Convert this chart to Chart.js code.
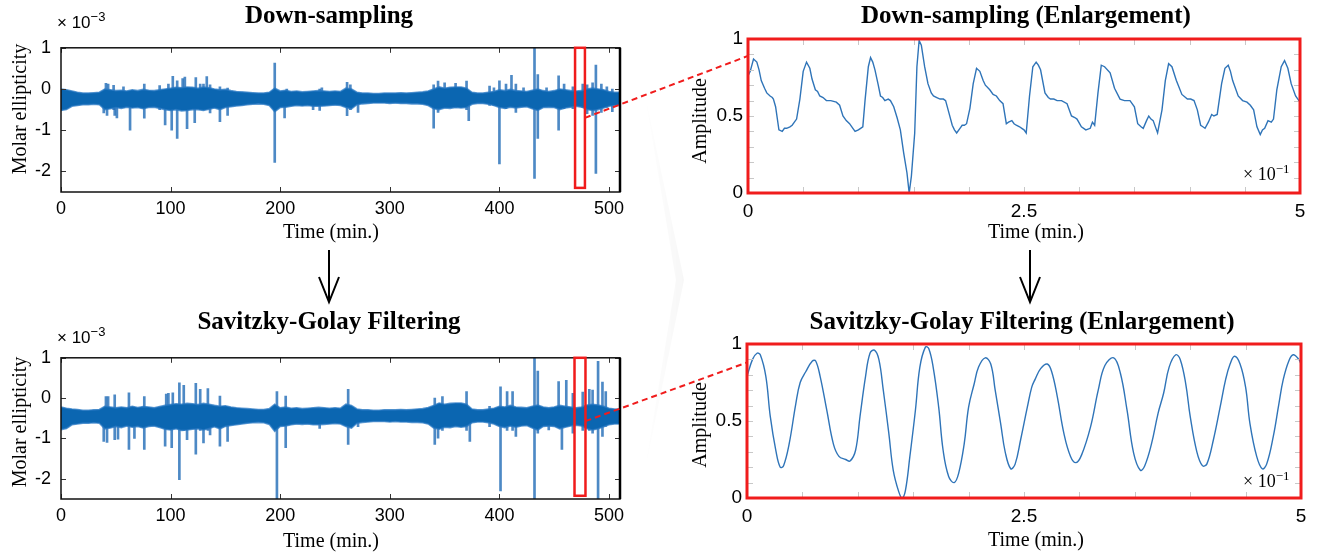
<!DOCTYPE html>
<html>
<head>
<meta charset="utf-8">
<title>Down-sampling and Savitzky-Golay filtering</title>
<script src="https://cdn.jsdelivr.net/npm/chart.js@4.4.1/dist/chart.umd.min.js"></script>
<style>
  html, body { margin: 0; padding: 0; background: #fff; overflow: hidden; }
  #fig { position: relative; width: 1320px; height: 557px; }
  #fig canvas { position: absolute; }
  .txt { position: absolute; white-space: nowrap; transform: translate(-50%, -50%); line-height: 1; color: #000; z-index: 3; }
  .title { font: bold 25px 'Liberation Serif', 'Times New Roman', serif; }
  .axis { font: 20px 'Liberation Serif', 'Times New Roman', serif; }
  .ylab { transform: translate(-50%, -50%) rotate(-90deg); }
  .mult { font: 17px 'Liberation Sans', Arial, sans-serif; transform: none; }
  .mult span { font-size: 13px; position: relative; top: -7px; }
  .mult.serif { font: 18px 'Liberation Serif', 'Times New Roman', serif; }
</style>
</head>
<body>
<div id="fig">
  <canvas id="dsChart" width="640" height="193" style="left:0px; top:27px"></canvas>
  <canvas id="sgChart" width="640" height="193" style="left:0px; top:337px"></canvas>
  <canvas id="dsZoomChart" width="625" height="206" style="left:690px; top:22px"></canvas>
  <canvas id="sgZoomChart" width="625" height="206" style="left:690px; top:327px"></canvas>
  <canvas id="overlay" width="1320" height="557" style="left:0; top:0; z-index:2; pointer-events:none"></canvas>

  <div class="txt title" style="left:329px; top:15px">Down-sampling</div>
  <div class="txt title" style="left:1026px; top:15px">Down-sampling (Enlargement)</div>
  <div class="txt title" style="left:329px; top:321px">Savitzky-Golay Filtering</div>
  <div class="txt title" style="left:1022px; top:321px">Savitzky-Golay Filtering (Enlargement)</div>

  <div class="txt axis ylab" style="left:19px; top:109px">Molar ellipticity</div>
  <div class="txt axis ylab" style="left:19px; top:422px">Molar ellipticity</div>
  <div class="txt axis ylab" style="left:699px; top:121px">Amplitude</div>
  <div class="txt axis ylab" style="left:699px; top:425px">Amplitude</div>

  <div class="txt axis" style="left:331px; top:231px">Time (min.)</div>
  <div class="txt axis" style="left:331px; top:540px">Time (min.)</div>
  <div class="txt axis" style="left:1036px; top:231px">Time (min.)</div>
  <div class="txt axis" style="left:1036px; top:539px">Time (min.)</div>

  <div class="txt mult" style="left:57px; top:13px">× 10<span>−3</span></div>
  <div class="txt mult" style="left:57px; top:328px">× 10<span>−3</span></div>
  <div class="txt mult serif" style="left:1243px; top:164px">× 10<span>−1</span></div>
  <div class="txt mult serif" style="left:1243px; top:471px">× 10<span>−1</span></div>
</div>

<script>
// ---- data ----

// envelope of the dense signal, one sample every 5 min from 0 to 510 (x 10^-3)
const bandStep = 5;
const dsUpper = [
  0.0, -0.02, -0.05, -0.08, -0.1, -0.1, -0.09, -0.08, 0.0, -0.02,
  -0.04, -0.03, -0.05, -0.02, -0.04, -0.01, -0.03, -0.04, -0.02, 0.0,
  0.02, 0.04, 0.03, 0.05, 0.04, 0.02, 0.05, 0.03, 0.0, -0.02,
  -0.01, -0.04, -0.06, -0.07, -0.08, -0.09, -0.1, -0.1, -0.08, 0.02,
  -0.05, -0.03, -0.06, -0.05, -0.07, -0.06, -0.05, -0.04, -0.05, -0.06,
  -0.05, -0.06, 0.02, 0.0, -0.08, -0.1, -0.1, -0.11, -0.11, -0.1,
  -0.1, -0.1, -0.09, -0.1, -0.09, -0.08, -0.07, -0.05, 0.0, 0.05,
  0.02, 0.04, 0.05, 0.05, 0.02, -0.08, -0.1, -0.1, -0.08, -0.06,
  -0.02, -0.04, -0.01, -0.04, -0.05, -0.06, -0.03, 0.0, -0.04, -0.06,
  -0.04, 0.0, -0.02, -0.04, -0.05, -0.04, 0.0, 0.02, 0.0, -0.02,
  -0.06, -0.08, -0.08
];
const dsLower = [
  -0.52, -0.5, -0.42, -0.4, -0.38, -0.38, -0.37, -0.38, -0.5, -0.48,
  -0.45, -0.47, -0.44, -0.46, -0.45, -0.48, -0.45, -0.44, -0.47, -0.5,
  -0.52, -0.5, -0.53, -0.52, -0.5, -0.5, -0.52, -0.49, -0.46, -0.5,
  -0.45, -0.43, -0.41, -0.4, -0.38, -0.37, -0.36, -0.37, -0.4, -0.55,
  -0.45, -0.44, -0.42, -0.4, -0.41, -0.4, -0.42, -0.42, -0.41, -0.4,
  -0.39, -0.4, -0.45, -0.48, -0.38, -0.36, -0.35, -0.34, -0.34, -0.34,
  -0.35, -0.34, -0.35, -0.35, -0.36, -0.36, -0.37, -0.4, -0.48, -0.5,
  -0.46, -0.47, -0.45, -0.46, -0.45, -0.37, -0.35, -0.35, -0.37, -0.4,
  -0.45, -0.47, -0.44, -0.46, -0.44, -0.43, -0.48, -0.52, -0.45, -0.44,
  -0.45, -0.5, -0.46, -0.44, -0.42, -0.44, -0.5, -0.52, -0.5, -0.46,
  -0.42, -0.4, -0.4
];
const sgUpper = [
  -0.22, -0.25, -0.27, -0.28, -0.3, -0.3, -0.29, -0.28, -0.2, -0.22,
  -0.24, -0.22, -0.24, -0.2, -0.23, -0.21, -0.22, -0.24, -0.21, -0.18,
  -0.16, -0.14, -0.15, -0.13, -0.14, -0.16, -0.13, -0.15, -0.18, -0.2,
  -0.19, -0.22, -0.24, -0.25, -0.26, -0.27, -0.28, -0.28, -0.26, -0.15,
  -0.24, -0.22, -0.25, -0.24, -0.26, -0.25, -0.24, -0.23, -0.24, -0.25,
  -0.24, -0.25, -0.15, -0.18, -0.27, -0.29, -0.29, -0.3, -0.3, -0.29,
  -0.29, -0.29, -0.28, -0.29, -0.28, -0.27, -0.26, -0.23, -0.18, -0.12,
  -0.15, -0.13, -0.12, -0.12, -0.15, -0.27, -0.29, -0.29, -0.27, -0.25,
  -0.2, -0.22, -0.18, -0.22, -0.23, -0.24, -0.2, -0.17, -0.22, -0.24,
  -0.22, -0.18, -0.2, -0.22, -0.24, -0.22, -0.17, -0.15, -0.17, -0.2,
  -0.25, -0.27, -0.27
];
const sgLower = [
  -0.78, -0.75, -0.66, -0.64, -0.62, -0.62, -0.61, -0.62, -0.76, -0.74,
  -0.7, -0.73, -0.69, -0.72, -0.7, -0.74, -0.7, -0.69, -0.73, -0.77,
  -0.79, -0.76, -0.8, -0.79, -0.77, -0.76, -0.79, -0.75, -0.71, -0.76,
  -0.7, -0.68, -0.66, -0.64, -0.62, -0.61, -0.6, -0.61, -0.65, -0.82,
  -0.7, -0.69, -0.66, -0.64, -0.65, -0.64, -0.66, -0.66, -0.65, -0.64,
  -0.63, -0.64, -0.7, -0.74, -0.62, -0.6, -0.59, -0.58, -0.58, -0.58,
  -0.59, -0.58, -0.59, -0.59, -0.6, -0.6, -0.61, -0.64, -0.74, -0.77,
  -0.72, -0.73, -0.7, -0.72, -0.7, -0.61, -0.59, -0.59, -0.61, -0.64,
  -0.7, -0.73, -0.69, -0.72, -0.69, -0.68, -0.74, -0.79, -0.7, -0.69,
  -0.7, -0.76, -0.72, -0.69, -0.67, -0.69, -0.76, -0.79, -0.76, -0.71,
  -0.66, -0.64, -0.64
];

// artefact spikes: time (min), lowest and highest value (x 10^-3)
const dsSpikeTime = [39, 41, 42, 43, 48, 49, 51, 57, 63, 76, 90, 95, 98, 101, 102, 106, 111, 113, 115, 122, 123, 127, 130, 133, 136, 145, 152,
  195, 204, 206, 230, 236, 238, 261, 264, 271, 340, 344, 350, 360, 370, 372, 391, 395, 400, 406, 411, 415, 422,
  432, 435, 443, 454, 459, 467, 476, 480, 485, 488, 493, 498, 503];
const dsSpikeLow = [-0.58, -0.4, -0.64, -0.45, -0.5, -0.64, -0.7, -0.45, -1.0, -0.71, -0.5, -0.87, -0.5, -1.0, -0.4, -1.2, -0.5, -0.4, -0.96, -0.82, -0.4, -0.5, -0.5, -0.4, -0.58, -0.79, -0.64,
  -1.78, -0.7, -0.4, -0.5, -0.52, -0.4, -0.65, -0.5, -0.57, -0.95, -0.57, -0.45, -0.45, -0.5, -0.77, -0.4, -0.4, -1.82, -0.48, -0.4, -0.57, -0.4,
  -2.17, -1.2, -0.4, -1.0, -0.48, -0.48, -0.45, -0.6, -0.64, -2.05, -0.57, -0.45, -0.55];
const dsSpikeHigh = [-0.1, 0.14, -0.05, 0.12, 0.09, -0.1, -0.1, 0.05, -0.1, 0.12, 0.08, -0.1, 0.12, -0.1, 0.31, 0.2, 0.25, 0.29, -0.1, -0.1, 0.28, 0.12, 0.12, 0.3, 0.1, 0.05, 0.02,
  0.63, -0.1, 0.0, -0.1, 0.0, 0.03, 0.16, 0.1, -0.1, 0.1, 0.19, 0.15, 0.14, 0.19, -0.1, 0.07, 0.03, 0.2, 0.12, 0.33, 0.12, 0.03,
  1.0, 0.35, 0.03, 0.32, 0.12, 0.05, 0.12, 0.1, 0.15, 0.58, 0.12, 0.05, 0.0];

const sgSpikeTime = [39, 41, 42, 43, 49, 52, 62, 67, 76, 95, 96, 98, 101, 102, 108, 112, 115, 123, 127, 130, 134, 136, 145, 152,
  197, 205, 236, 262, 271, 341, 344, 348, 370, 373, 391, 401, 407, 412, 415,
  432, 435, 445, 454, 457, 461, 467, 476, 482, 485, 490, 494, 497];
const sgSpikeLow = [-1.07, -0.6, -1.1, -0.7, -1.03, -1.02, -1.27, -1.0, -1.27, -1.19, -0.7, -0.7, -1.23, -0.7, -2.02, -0.8, -1.03, -1.39, -0.8, -1.11, -0.8, -0.91, -1.19, -1.07,
  -2.5, -1.23, -0.75, -1.15, -0.71, -1.15, -0.99, -0.8, -0.8, -1.07, -0.71, -2.3, -0.8, -0.8, -0.95,
  -2.5, -0.87, -0.79, -0.6, -1.27, -0.7, -0.87, -0.8, -0.8, -0.87, -2.5, -0.95, -0.7];
const sgSpikeHigh = [-0.3, 0.04, -0.3, 0.04, 0.08, -0.3, 0.13, -0.3, 0.04, -0.3, 0.1, 0.12, -0.3, 0.13, 0.38, 0.32, -0.3, 0.37, 0.22, -0.3, 0.24, -0.3, 0.05, -0.3,
  0.16, 0.05, -0.3, 0.22, -0.3, 0.0, -0.3, 0.04, 0.16, -0.3, -0.2, 0.28, 0.16, 0.16, -0.3,
  1.0, 0.67, -0.3, 0.41, -0.3, 0.44, 0.12, 0.15, 0.22, 0.2, 0.91, 0.4, 0.16];

// enlarged window, time in units of 10^-1 min
const dsZoomX = [0.0, 0.02, 0.05, 0.08, 0.1, 0.12, 0.15, 0.17, 0.2, 0.22, 0.23, 0.25, 0.28, 0.31, 0.33, 0.35, 0.38, 0.4, 0.42, 0.44,
  0.47, 0.5, 0.53, 0.56, 0.58, 0.61, 0.63, 0.65, 0.68, 0.71, 0.75, 0.8, 0.83, 0.86, 0.89, 0.92, 0.95, 0.97, 1.0, 1.02,
  1.04, 1.06, 1.09, 1.11, 1.13, 1.15, 1.18, 1.2, 1.22, 1.24, 1.27, 1.29, 1.32, 1.35, 1.38, 1.41, 1.44, 1.46, 1.48, 1.51,
  1.53, 1.55, 1.57, 1.6, 1.63, 1.66, 1.68, 1.71, 1.74, 1.77, 1.79, 1.82, 1.85, 1.87, 1.89, 1.92, 1.94, 1.96, 1.98, 2.01,
  2.04, 2.07, 2.1, 2.13, 2.15, 2.19, 2.22, 2.25, 2.28, 2.31, 2.34, 2.36, 2.39, 2.41, 2.43, 2.46, 2.48, 2.5, 2.52, 2.55,
  2.58, 2.61, 2.63, 2.65, 2.69, 2.72, 2.74, 2.77, 2.8, 2.84, 2.89, 2.93, 2.96, 2.98, 3.02, 3.06, 3.1, 3.12, 3.14, 3.17,
  3.2, 3.23, 3.28, 3.32, 3.37, 3.41, 3.46, 3.5, 3.53, 3.56, 3.58, 3.61, 3.63, 3.65, 3.67, 3.71, 3.75, 3.78, 3.81, 3.84,
  3.88, 3.93, 3.98, 4.01, 4.04, 4.07, 4.1, 4.12, 4.14, 4.17, 4.2, 4.22, 4.25, 4.29, 4.32, 4.35, 4.37, 4.39, 4.44, 4.48,
  4.52, 4.55, 4.58, 4.61, 4.64, 4.66, 4.68, 4.71, 4.74, 4.76, 4.79, 4.83, 4.86, 4.89, 4.92, 4.96, 5.0];
const dsZoomY = [0.76, 0.79, 0.87, 0.85, 0.8, 0.73, 0.68, 0.65, 0.63, 0.62, 0.61, 0.56, 0.41, 0.4, 0.42, 0.42, 0.43, 0.44, 0.46, 0.48,
  0.61, 0.79, 0.85, 0.81, 0.74, 0.67, 0.66, 0.63, 0.62, 0.6, 0.6, 0.59, 0.57, 0.5, 0.47, 0.45, 0.42, 0.4, 0.41, 0.42,
  0.43, 0.6, 0.82, 0.88, 0.85, 0.8, 0.7, 0.63, 0.62, 0.6, 0.61, 0.6, 0.56, 0.49, 0.41, 0.26, 0.13, 0.0, 0.11, 0.39,
  0.82, 0.99, 0.96, 0.82, 0.71, 0.65, 0.63, 0.62, 0.61, 0.61, 0.6, 0.52, 0.44, 0.41, 0.39, 0.42, 0.44, 0.44, 0.45, 0.55,
  0.71, 0.81, 0.79, 0.73, 0.7, 0.67, 0.64, 0.63, 0.6, 0.58, 0.45, 0.46, 0.47, 0.45, 0.44, 0.43, 0.42, 0.41, 0.39, 0.63,
  0.82, 0.85, 0.83, 0.8, 0.65, 0.62, 0.61, 0.61, 0.6, 0.6, 0.58, 0.5, 0.49, 0.48, 0.43, 0.41, 0.42, 0.46, 0.44, 0.65,
  0.83, 0.82, 0.78, 0.68, 0.61, 0.6, 0.6, 0.56, 0.45, 0.43, 0.42, 0.47, 0.5, 0.48, 0.47, 0.39, 0.54, 0.73, 0.84, 0.82,
  0.73, 0.64, 0.61, 0.61, 0.6, 0.54, 0.44, 0.43, 0.42, 0.46, 0.51, 0.5, 0.51, 0.71, 0.81, 0.83, 0.79, 0.73, 0.63, 0.6,
  0.59, 0.57, 0.54, 0.43, 0.38, 0.41, 0.42, 0.47, 0.46, 0.48, 0.67, 0.82, 0.86, 0.81, 0.71, 0.63, 0.59];

const sgZoomX = [0.0, 0.05, 0.09, 0.12, 0.17, 0.21, 0.26, 0.3, 0.33, 0.38, 0.44, 0.48, 0.53, 0.59, 0.62, 0.66, 0.72, 0.78, 0.83, 0.89,
  0.93, 0.98, 1.02, 1.07, 1.11, 1.15, 1.19, 1.23, 1.28, 1.32, 1.37, 1.4, 1.43, 1.47, 1.52, 1.56, 1.61, 1.64, 1.68, 1.73,
  1.77, 1.82, 1.87, 1.91, 1.96, 2.0, 2.05, 2.09, 2.15, 2.2, 2.24, 2.29, 2.33, 2.38, 2.42, 2.47, 2.53, 2.57, 2.6, 2.65,
  2.71, 2.75, 2.8, 2.86, 2.92, 2.97, 3.02, 3.1, 3.17, 3.23, 3.31, 3.37, 3.43, 3.49, 3.55, 3.59, 3.65, 3.71, 3.76, 3.81,
  3.87, 3.91, 3.96, 4.0, 4.06, 4.11, 4.15, 4.21, 4.27, 4.32, 4.36, 4.4, 4.45, 4.5, 4.54, 4.6, 4.65, 4.69, 4.75, 4.8,
  4.84, 4.89, 4.93, 4.98, 5.0];
const sgZoomY = [0.79, 0.9, 0.94, 0.93, 0.79, 0.53, 0.31, 0.2, 0.21, 0.35, 0.61, 0.75, 0.82, 0.89, 0.89, 0.79, 0.57, 0.35, 0.27, 0.25,
  0.24, 0.31, 0.53, 0.79, 0.94, 0.96, 0.9, 0.7, 0.42, 0.18, 0.04, 0.0, 0.05, 0.27, 0.57, 0.85, 0.98, 0.97, 0.85, 0.59,
  0.31, 0.14, 0.1, 0.16, 0.35, 0.59, 0.74, 0.85, 0.91, 0.87, 0.7, 0.48, 0.3, 0.19, 0.22, 0.38, 0.59, 0.72, 0.77, 0.84,
  0.87, 0.82, 0.66, 0.42, 0.27, 0.23, 0.28, 0.46, 0.7, 0.86, 0.91, 0.81, 0.57, 0.29, 0.18, 0.21, 0.35, 0.55, 0.68, 0.85,
  0.93, 0.9, 0.74, 0.53, 0.3, 0.21, 0.22, 0.38, 0.59, 0.77, 0.87, 0.92, 0.87, 0.72, 0.48, 0.27, 0.19, 0.22, 0.4, 0.61,
  0.77, 0.89, 0.93, 0.9, 0.87];

// axes
const xTicksLeft = [0, 100, 200, 300, 400, 500];
const yTicksLeft = [1, 0, -1, -2];
const xTicksRight = [0, 2.5, 5];
const yTicksRight = [0, 0.5, 1];
const xMinorRight = [0.5, 1, 1.5, 2, 2.5, 3, 3.5, 4, 4.5];
const yMinorRight = [0.1, 0.2, 0.3, 0.4, 0.5, 0.6, 0.7, 0.8, 0.9];

// the window that is enlarged on the right (minutes)
const dsWindow = [469, 478];
const sgWindow = [468.5, 478.5];

// ---- styling ----
const bandBlue = '#0b66b1';
const bandEdge = 'rgba(40, 120, 195, 0.75)';
const spikeBlue = 'rgba(32, 108, 182, 0.8)';
const lineBlue = '#2f74b8';
const frameRed = '#f01c1c';
const sans = "'Liberation Sans', Arial, sans-serif";

// frame, inward ticks and the red window box of the long recordings
const leftFrame = {
  id: 'leftFrame',
  afterDatasetsDraw(chart, args, opts) {
    const { ctx, chartArea: a, scales: { x, y } } = chart;
    ctx.save();
    ctx.strokeStyle = '#333';
    ctx.lineWidth = 1;
    ctx.beginPath();
    xTicksLeft.forEach(v => {
      const px = Math.round(x.getPixelForValue(v)) + 0.5;
      ctx.moveTo(px, a.top); ctx.lineTo(px, a.top + 5);
      ctx.moveTo(px, a.bottom); ctx.lineTo(px, a.bottom - 5);
    });
    yTicksLeft.forEach(v => {
      const py = Math.round(y.getPixelForValue(v)) + 0.5;
      ctx.moveTo(a.left, py); ctx.lineTo(a.left + 5, py);
      ctx.moveTo(a.right, py); ctx.lineTo(a.right - 5, py);
    });
    ctx.stroke();

    ctx.strokeStyle = '#111';
    ctx.lineWidth = 1.5;
    ctx.strokeRect(a.left, a.top, a.right - a.left, a.bottom - a.top);
    ctx.strokeStyle = '#000';
    ctx.lineWidth = 2.5;
    ctx.beginPath();
    ctx.moveTo(a.right, a.top); ctx.lineTo(a.right, a.bottom);
    ctx.stroke();

    // enlarged window
    const bx0 = x.getPixelForValue(opts.window[0]);
    const bx1 = x.getPixelForValue(opts.window[1]);
    const by0 = y.getPixelForValue(opts.boxTop);
    const by1 = y.getPixelForValue(opts.boxBottom);
    ctx.strokeStyle = frameRed;
    ctx.lineWidth = 2.5;
    ctx.strokeRect(bx0, by0, bx1 - bx0, by1 - by0);
    ctx.restore();
  }
};

// red frame and grey minor ticks of the enlargements
const rightFrame = {
  id: 'rightFrame',
  afterDatasetsDraw(chart) {
    const { ctx, chartArea: a, scales: { x, y } } = chart;
    ctx.save();
    ctx.strokeStyle = '#c8c8c8';
    ctx.lineWidth = 1;
    ctx.beginPath();
    xMinorRight.forEach(v => {
      const px = Math.round(x.getPixelForValue(v)) + 0.5;
      ctx.moveTo(px, a.top); ctx.lineTo(px, a.top + 6);
      ctx.moveTo(px, a.bottom); ctx.lineTo(px, a.bottom - 6);
    });
    yMinorRight.forEach(v => {
      const py = Math.round(y.getPixelForValue(v)) + 0.5;
      ctx.moveTo(a.left, py); ctx.lineTo(a.left + 6, py);
      ctx.moveTo(a.right, py); ctx.lineTo(a.right - 6, py);
    });
    ctx.stroke();
    ctx.strokeStyle = frameRed;
    ctx.lineWidth = 3;
    ctx.strokeRect(a.left, a.top, a.right - a.left, a.bottom - a.top);
    ctx.restore();
  }
};

// build one long-recording chart
function longChart(id, upper, lower, spikeTime, spikeLow, spikeHigh, frameOpts, xHeight) {
  const band = arr => arr.map((v, i) => ({ x: i * bandStep, y: v }));
  return new Chart(document.getElementById(id), {
    type: 'line',
    data: {
      datasets: [
        { data: band(upper), borderColor: bandEdge, borderWidth: 1.6, pointRadius: 0, tension: 0, fill: false },
        { data: band(lower), borderColor: bandEdge, borderWidth: 1.6, pointRadius: 0, tension: 0, fill: '-1', backgroundColor: bandBlue },
        {
          type: 'bar',
          data: spikeTime.map((t, i) => ({ x: t, y: [spikeLow[i], spikeHigh[i]] })),
          backgroundColor: spikeBlue,
          barThickness: 2,
          borderWidth: 0
        }
      ]
    },
    options: {
      responsive: false,
      animation: false,
      devicePixelRatio: 1,
      layout: { padding: { top: 15, right: 20, left: 0, bottom: 0 } },
      plugins: { legend: { display: false }, tooltip: { enabled: false }, leftFrame: frameOpts },
      scales: {
        x: {
          type: 'linear', min: 0, max: 510, offset: false,
          grid: { display: false, drawTicks: false }, border: { display: false },
          ticks: { color: '#000', font: { family: sans, size: 18 }, padding: 6, maxRotation: 0, callback: v => String(v) },
          afterBuildTicks: s => { s.ticks = xTicksLeft.map(v => ({ value: v })); },
          afterFit: s => { s.height = xHeight; }
        },
        y: {
          min: -2.5, max: 1,
          grid: { display: false, drawTicks: false }, border: { display: false },
          ticks: { color: '#000', font: { family: sans, size: 18 }, padding: 10, callback: v => String(v) },
          afterBuildTicks: s => { s.ticks = yTicksLeft.map(v => ({ value: v })); },
          afterFit: s => { s.width = 61; }
        }
      }
    },
    plugins: [leftFrame]
  });
}

// build one enlargement chart
function zoomChart(id, xs, ys, tension, yWidth, rightPad) {
  return new Chart(document.getElementById(id), {
    type: 'line',
    data: {
      datasets: [{
        data: xs.map((x, i) => ({ x: x, y: ys[i] })),
        borderColor: lineBlue, borderWidth: 1.4, pointRadius: 0, tension: tension, fill: false
      }]
    },
    options: {
      responsive: false,
      animation: false,
      devicePixelRatio: 1,
      layout: { padding: { top: 17, right: rightPad, left: 0, bottom: 0 } },
      plugins: { legend: { display: false }, tooltip: { enabled: false } },
      scales: {
        x: {
          type: 'linear', min: 0, max: 5, offset: false,
          grid: { display: false, drawTicks: false }, border: { display: false },
          ticks: { color: '#000', font: { family: sans, size: 19 }, padding: 7, maxRotation: 0, callback: v => String(v) },
          afterBuildTicks: s => { s.ticks = xTicksRight.map(v => ({ value: v })); },
          afterFit: s => { s.height = 35; }
        },
        y: {
          min: 0, max: 1,
          grid: { display: false, drawTicks: false }, border: { display: false },
          ticks: { color: '#000', font: { family: sans, size: 19 }, padding: 5, callback: v => String(v) },
          afterBuildTicks: s => { s.ticks = yTicksRight.map(v => ({ value: v })); },
          afterFit: s => { s.width = yWidth; }
        }
      }
    },
    plugins: [rightFrame]
  });
}

const dsChart = longChart('dsChart', dsUpper, dsLower, dsSpikeTime, dsSpikeLow, dsSpikeHigh,
  { window: dsWindow, boxTop: 1.0, boxBottom: -2.4 }, 28);
const sgChart = longChart('sgChart', sgUpper, sgLower, sgSpikeTime, sgSpikeLow, sgSpikeHigh,
  { window: sgWindow, boxTop: 1.0, boxBottom: -2.42 }, 31);
const dsZoomChart = zoomChart('dsZoomChart', dsZoomX, dsZoomY, 0, 58, 15);
const sgZoomChart = zoomChart('sgZoomChart', sgZoomX, sgZoomY, 0.4, 57, 14);

// ---- overlay: connectors, arrows, faint chevron ----
function pagePoint(chart, xv, yv) {
  const c = chart.canvas;
  return [c.offsetLeft + chart.scales.x.getPixelForValue(xv), c.offsetTop + chart.scales.y.getPixelForValue(yv)];
}

const ov = document.getElementById('overlay').getContext('2d');

// faint background chevron between the columns
ov.save();
const grad = ov.createLinearGradient(640, 0, 690, 0);
grad.addColorStop(0, 'rgba(0,0,0,0)');
grad.addColorStop(1, 'rgba(0,0,0,0.035)');
ov.fillStyle = grad;
ov.beginPath();
ov.moveTo(645, 95); ov.lineTo(684, 280); ov.lineTo(645, 470); ov.lineTo(676, 280); ov.closePath();
ov.fill();
ov.restore();

// dashed connectors from the red windows to the enlargements
ov.save();
ov.strokeStyle = frameRed;
ov.lineWidth = 2;
ov.setLineDash([6, 4]);
[[dsChart, dsWindow, -0.7, dsZoomChart, 0.89], [sgChart, sgWindow, -0.57, sgZoomChart, 0.88]].forEach(([src, win, yv, dst, yz]) => {
  const p0 = pagePoint(src, win[1], yv);
  const p1 = pagePoint(dst, 0, yz);
  ov.beginPath();
  ov.moveTo(p0[0], p0[1]);
  ov.lineTo(p1[0], p1[1]);
  ov.stroke();
});
ov.restore();

// down arrows between the rows
ov.save();
ov.strokeStyle = '#000';
ov.lineWidth = 2;
[329, 1030].forEach(ax => {
  ov.beginPath();
  ov.moveTo(ax, 250); ov.lineTo(ax, 301);
  ov.moveTo(ax - 10, 277); ov.lineTo(ax, 302); ov.lineTo(ax + 10, 277);
  ov.stroke();
});
ov.restore();
</script>
</body>
</html>
